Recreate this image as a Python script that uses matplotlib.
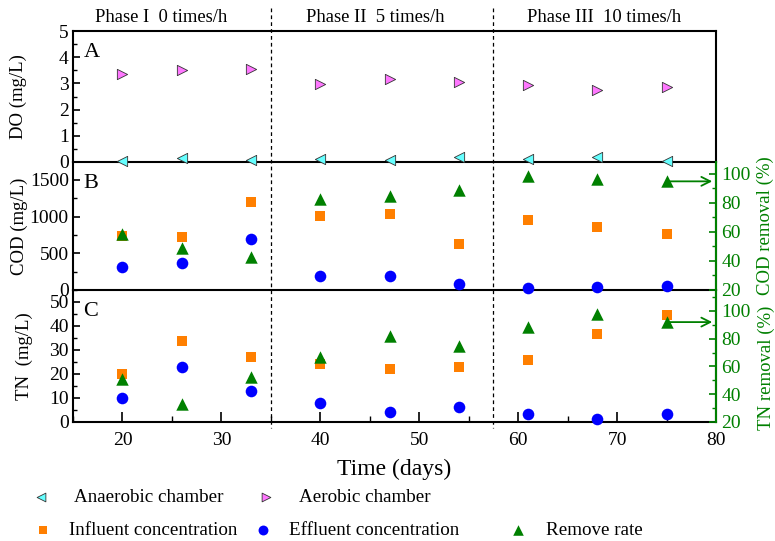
import numpy as np
import matplotlib.pyplot as plt
from matplotlib.lines import Line2D
from matplotlib.ticker import MultipleLocator
import matplotlib.transforms as mtransforms

plt.rcParams['font.family'] = ['Liberation Serif', 'DejaVu Serif']
plt.rcParams['font.size'] = 14

# Sampling days
days = [20, 26, 33, 40, 47, 54, 61, 68, 75]

# DO (mg/L)
do_anaerobic = [0.05, 0.15, 0.07, 0.10, 0.08, 0.18, 0.12, 0.18, 0.03]
do_aerobic = [3.35, 3.50, 3.54, 2.96, 3.17, 3.04, 2.93, 2.75, 2.87]

# COD (mg/L) and removal (%)
cod_in = [737, 723, 1205, 1014, 1040, 628, 960, 860, 764]
cod_out = [318, 373, 696, 191, 187, 78, 31, 45, 50]
cod_removal = [58.6, 49.2, 42.5, 82.5, 84.4, 88.8, 98.2, 96.3, 94.7]

# TN (mg/L) and removal (%)
tn_in = [19.9, 33.6, 27.1, 24.0, 22.1, 22.9, 25.7, 36.7, 44.5]
tn_out = [10.2, 22.9, 13.1, 8.1, 4.2, 6.1, 3.2, 1.3, 3.2]
tn_removal = [50.8, 32.8, 52.4, 66.9, 82.0, 74.6, 88.5, 97.6, 91.9]

# phases
phase_bounds = [35, 57.5]
phase_labels = ['Phase I  0 times/h', 'Phase II  5 times/h', 'Phase III  10 times/h']
phase_centers = [23.9, 45.6, 68.7]

green = '#008000'
c_ana = '#66FFFF'
c_aer = '#FF77FF'
c_in = '#FF7F00'
c_out = '#0000FF'

W, H = 775, 541
fig = plt.figure(figsize=(W / 100, H / 100), dpi=100)

def ax_rect(top, bottom, left=73, right=716):
    return [left / W, (H - bottom) / H, (right - left) / W, (bottom - top) / H]

axA = fig.add_axes(ax_rect(31, 162))
axB = fig.add_axes(ax_rect(162, 290), sharex=axA)
axC = fig.add_axes(ax_rect(290, 422), sharex=axA)
axB2 = axB.twinx()
axC2 = axC.twinx()
for ax in (axA, axB, axC, axB2, axC2):
    ax.patch.set_visible(False)

# Panel A
ha = axA.scatter(days, do_anaerobic, marker='<', s=55, c=c_ana, edgecolors='#333333',
                 linewidths=0.6, zorder=3, clip_on=False, label='Anaerobic chamber')
hb = axA.scatter(days, do_aerobic, marker='>', s=55, c=c_aer, edgecolors='#333333',
                 linewidths=0.6, zorder=3, label='Aerobic chamber')
axA.set_ylim(0, 5)
axA.yaxis.set_major_locator(MultipleLocator(1))
axA.yaxis.set_minor_locator(MultipleLocator(0.5))
axA.set_ylabel('DO (mg/L)', fontsize=13.5)
axA.yaxis.set_label_coords(-0.0715, 0.5)

# Panel B
hi = axB.scatter(days, cod_in, marker='s', s=50, c=c_in, linewidths=0, zorder=3,
                 label='Influent concentration')
ho = axB.scatter(days, cod_out, marker='o', s=70, c=c_out, linewidths=0, zorder=3,
                 clip_on=False, label='Effluent concentration')
hr = axB2.scatter(days, cod_removal, marker='^', s=80, c=green, linewidths=0, zorder=3,
                  label='Remove rate')
axB.set_ylim(0, 1745)
axB.yaxis.set_major_locator(MultipleLocator(500))
axB.yaxis.set_minor_locator(MultipleLocator(250))
axB.set_ylabel('COD (mg/L)', fontsize=13.5)
axB.yaxis.set_label_coords(-0.07, 0.5)
axB2.set_ylim(20, 108)
axB2.set_ylabel('COD removal (%)', fontsize=13.5, color=green)
axB2.yaxis.set_label_coords(1.063, 0.5)
axB2.annotate('', xy=(79.9, cod_removal[-1]), xytext=(days[-1], cod_removal[-1]),
              arrowprops=dict(arrowstyle='->', color=green, lw=1.3,
                              mutation_scale=16), zorder=4)

# Panel C
axC.scatter(days, tn_in, marker='s', s=50, c=c_in, linewidths=0, zorder=3)
axC.scatter(days, tn_out, marker='o', s=70, c=c_out, linewidths=0, zorder=3, clip_on=False)
axC2.scatter(days, tn_removal, marker='^', s=80, c=green, linewidths=0, zorder=3)
axC.set_ylim(0, 55)
axC.yaxis.set_major_locator(MultipleLocator(10))
axC.yaxis.set_minor_locator(MultipleLocator(5))
axC.set_ylabel('TN  (mg/L)', fontsize=13.5)
axC.yaxis.set_label_coords(-0.062, 0.5)
axC2.set_ylim(20, 115)
axC2.set_ylabel('TN removal (%)', fontsize=13.5, color=green)
axC2.yaxis.set_label_coords(1.065, 0.41)
axC2.annotate('', xy=(79.9, tn_removal[-1]), xytext=(days[-1], tn_removal[-1]),
              arrowprops=dict(arrowstyle='->', color=green, lw=1.3,
                              mutation_scale=16), zorder=4)

for ax2 in (axB2, axC2):
    ax2.yaxis.set_major_locator(MultipleLocator(20))
    ax2.yaxis.set_minor_locator(MultipleLocator(10))
    ax2.tick_params(axis='y', which='both', direction='in', colors=green, labelsize=14)
    ax2.tick_params(axis='y', which='major', length=5, width=1.2, pad=4)
    ax2.tick_params(axis='y', which='minor', length=3, width=1)
    ax2.spines['right'].set_color(green)
    ax2.spines['right'].set_linewidth(1.5)
    for s in ('top', 'bottom', 'left'):
        ax2.spines[s].set_visible(False)

axA.set_xlim(15, 80)
axA.xaxis.set_major_locator(MultipleLocator(10))
axA.xaxis.set_minor_locator(MultipleLocator(5))
for ax in (axA, axB, axC):
    ax.tick_params(axis='both', which='both', direction='in', labelsize=14)
    ax.tick_params(axis='y', which='major', length=5, width=1.2, right=False, pad=3)
    ax.tick_params(axis='y', which='minor', length=3, width=1)
    ax.tick_params(axis='x', which='major', length=7, width=1.2, pad=7)
    ax.tick_params(axis='x', which='minor', length=4, width=1)
    for s in ax.spines.values():
        s.set_linewidth(1.5)
    if ax is not axC:
        ax.tick_params(axis='x', which='both', bottom=False, labelbottom=False)
axB.spines['top'].set_visible(False)
axC.spines['top'].set_visible(False)
axC.set_xlabel('Time (days)', fontsize=17, labelpad=7)

for ax, letter in ((axA, 'A'), (axB, 'B'), (axC, 'C')):
    ax.text(0.016, 0.91, letter, transform=ax.transAxes, fontsize=16, va='top', ha='left')

# phase separators and titles
trans = mtransforms.blended_transform_factory(axC.transData, fig.transFigure)
for xb in phase_bounds:
    fig.add_artist(Line2D([xb, xb], [(H - 8) / H, (H - 428) / H], transform=trans,
                          color='black', lw=0.9, ls=(0, (3, 2.5))))
for xc, lab in zip(phase_centers, phase_labels):
    fig.text(xc, (H - 18) / H, lab, transform=trans, ha='center', va='center', fontsize=13.4)

# legends
entries = [
    (ha, 'Anaerobic chamber', 31, 497, 1.25),
    (hb, 'Aerobic chamber', 256, 497, 1.25),
    (hi, 'Influent concentration', 33, 530, 0.9),
    (ho, 'Effluent concentration', 253, 530, 0.9),
    (hr, 'Remove rate', 508, 530, 1.0),
]
for h, lab, x, y, pad in entries:
    fig.legend(handles=[h], labels=[lab], loc='center left',
               bbox_to_anchor=(x / W, (H - y) / H), frameon=False, fontsize=13.7,
               handlelength=1.0, handletextpad=pad, borderpad=0, borderaxespad=0,
               markerscale=0.85)

fig.savefig('out.png', dpi=100)
